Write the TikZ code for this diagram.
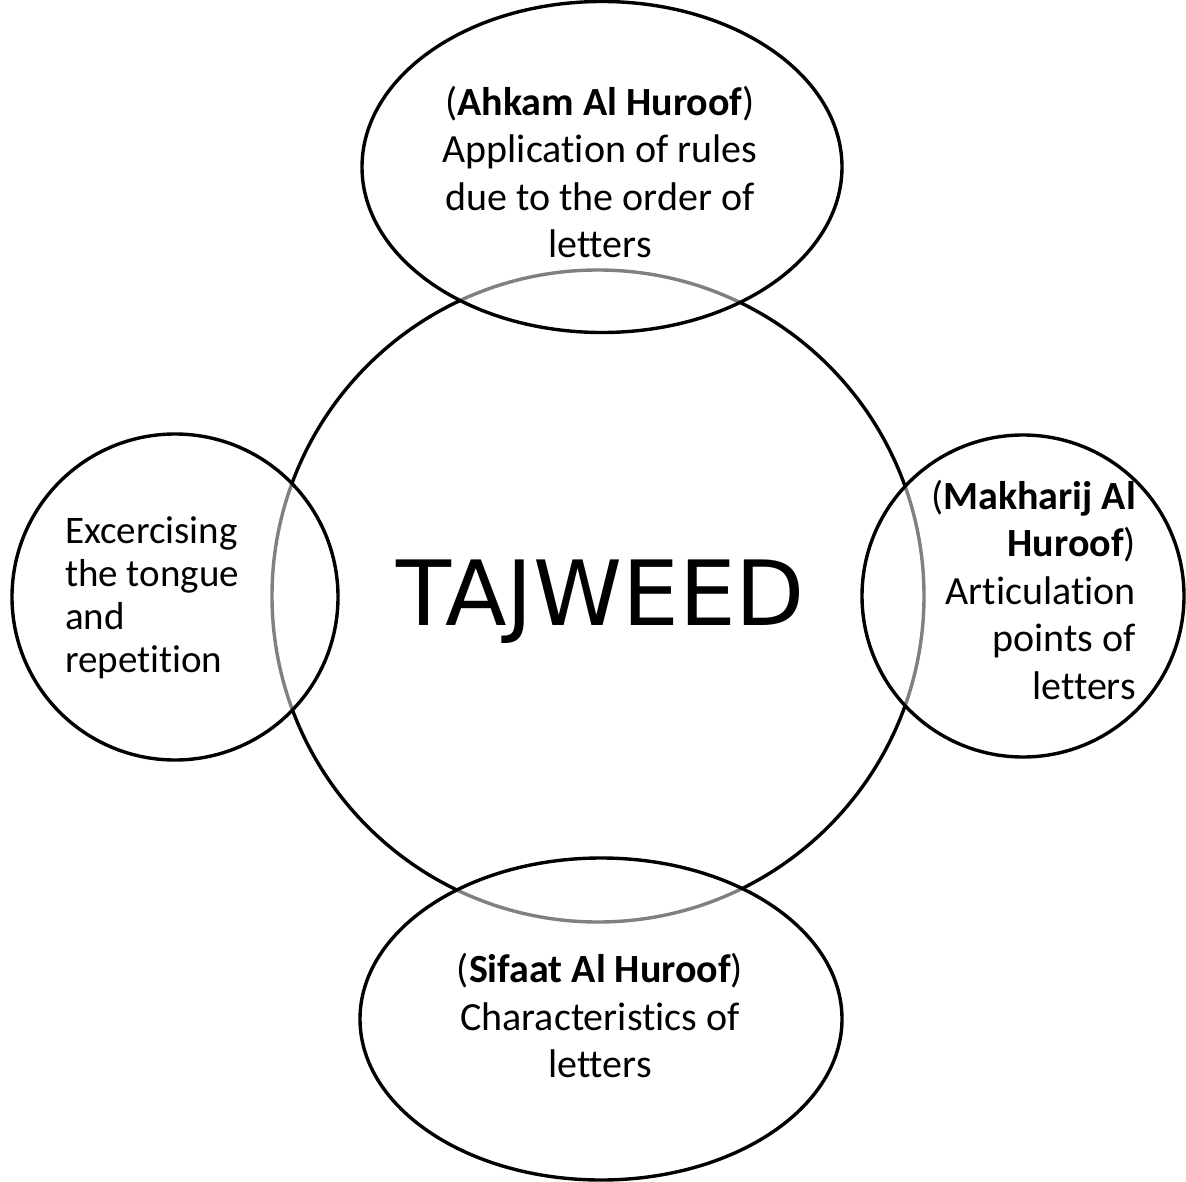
\documentclass[tikz,border=0pt]{standalone}
\usepackage{fontspec}
\setmainfont{Carlito}[Ligatures={NoCommon}]
\newfontfamily\titlefont{DejaVu Sans}
\usetikzlibrary{shapes.geometric}
\begin{document}
\begin{tikzpicture}[x=1pt,y=-1pt,
  ring/.style={draw=black,line width=3.4pt,inner sep=0pt},
  sat/.style={ring,fill=white,fill opacity=0.5},
  lbl/.style={font=\fontsize{40}{47.5}\selectfont,inner sep=0pt,text opacity=1}]
\useasboundingbox (0,0) rectangle (1186,1182);
\node[ring,circle,minimum size=652pt] (core) at (598,596) {};
\node[sat,ellipse,minimum width=480pt,minimum height=331pt] (top) at (602,167) {};
\node[sat,ellipse,minimum width=482pt,minimum height=322pt] (bottom) at (601,1019) {};
\node[sat,circle,minimum size=326pt] (left) at (175,597) {};
\node[sat,circle,minimum size=322pt] (right) at (1023,596) {};
\node[inner sep=0pt,font=\titlefont\fontsize{90}{100}\selectfont] (title) at (601,602) {TAJWEED};
\node[lbl,align=center] (toptext) at (600,172) {(\textbf{Ahkam Al Huroof})\\Application of rules\\due to the order of\\letters};
\node[lbl,align=center] (bottomtext) at (600,1016) {(\textbf{Sifaat Al Huroof})\\Characteristics of\\letters};
\node[lbl,align=left,anchor=west,font=\fontsize{39}{43}\selectfont] (lefttext) at (65,598) {Excercising\\the tongue\\and\\repetition};
\node[lbl,align=right,anchor=east] (righttext) at (1136,590) {(\textbf{Makharij Al}\\\textbf{Huroof})\\Articulation\\points of\\letters};
\end{tikzpicture}
\end{document}
